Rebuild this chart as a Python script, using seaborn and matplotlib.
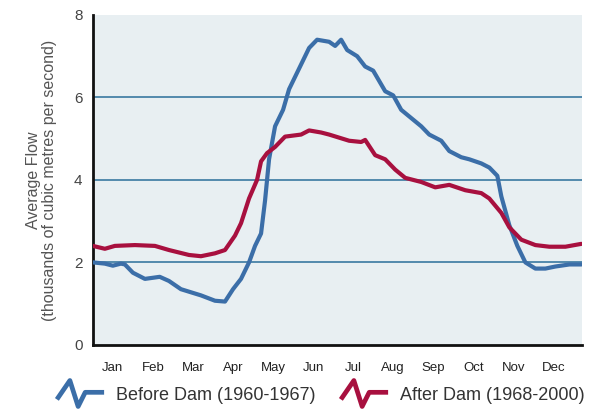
import numpy as np
import pandas as pd
import matplotlib.pyplot as plt
import seaborn as sns
from matplotlib.path import Path
from matplotlib.lines import Line2D

# Months since Jan 1 and average flow (thousands m3/s)
before_month = [0.0, 0.3, 0.5, 0.7, 0.8, 1.0, 1.3, 1.67, 1.9, 2.2, 2.7, 3.05, 3.3, 3.5, 3.7, 3.9,
                4.05, 4.2, 4.3, 4.4, 4.55, 4.75, 4.9, 5.2, 5.4, 5.6, 5.9, 6.05, 6.2, 6.35, 6.6,
                6.8, 7.0, 7.3, 7.5, 7.7, 7.95, 8.2, 8.4, 8.7, 8.9, 9.2, 9.4, 9.7, 9.9, 10.1,
                10.2, 10.4, 10.6, 10.8, 11.05, 11.3, 11.55, 11.9, 12.2]
before_flow = [2.0, 1.97, 1.92, 1.97, 1.95, 1.75, 1.6, 1.65, 1.55, 1.35, 1.2, 1.07, 1.05, 1.35, 1.6, 2.0,
               2.4, 2.7, 3.5, 4.5, 5.3, 5.7, 6.2, 6.8, 7.2, 7.4, 7.35, 7.25, 7.4, 7.15, 7.0,
               6.75, 6.65, 6.15, 6.05, 5.7, 5.5, 5.3, 5.1, 4.95, 4.7, 4.55, 4.5, 4.4, 4.3, 4.1,
               3.6, 2.9, 2.4, 2.0, 1.85, 1.85, 1.9, 1.95, 1.95]

after_month = [0.0, 0.3, 0.55, 1.05, 1.55, 1.9, 2.4, 2.7, 3.05, 3.3, 3.55, 3.7, 3.9, 4.1, 4.2,
               4.35, 4.55, 4.8, 5.2, 5.4, 5.7, 5.9, 6.4, 6.7, 6.8, 7.05, 7.3, 7.55, 7.8, 8.2,
               8.55, 8.9, 9.3, 9.7, 9.9, 10.2, 10.4, 10.7, 11.05, 11.4, 11.8, 12.2]
after_flow = [2.4, 2.33, 2.4, 2.42, 2.4, 2.3, 2.18, 2.15, 2.22, 2.3, 2.65, 2.95, 3.55, 4.0, 4.45,
              4.65, 4.8, 5.05, 5.1, 5.2, 5.15, 5.1, 4.95, 4.92, 4.97, 4.6, 4.5, 4.25, 4.05, 3.95,
              3.82, 3.88, 3.75, 3.68, 3.55, 3.2, 2.85, 2.55, 2.42, 2.38, 2.38, 2.45]

months = ["Jan", "Feb", "Mar", "Apr", "May", "Jun", "Jul", "Aug", "Sep", "Oct", "Nov", "Dec"]
labels = ["Before Dam (1960-1967)", "After Dam (1968-2000)"]
colors = ["#3b6ea8", "#a8103f"]

df = pd.concat([
    pd.DataFrame({"month": before_month, "flow": before_flow, "period": labels[0]}),
    pd.DataFrame({"month": after_month, "flow": after_flow, "period": labels[1]}),
])

sns.set_style("white")
plt.rcParams["font.family"] = ["Liberation Sans", "DejaVu Sans"]
fig = plt.figure(figsize=(5.99, 4.16), dpi=100)
ax = fig.add_axes([0.155, 0.171, 0.817, 0.793])
ax.set_facecolor("#e8eff2")

for y in [2, 4, 6]:
    ax.axhline(y, color="#2a6f9a", lw=1.1, zorder=1)

sns.lineplot(data=df, x="month", y="flow", hue="period", palette=colors,
             linewidth=3.0, legend=False, ax=ax, zorder=3)

ax.set_xlim(0, 12.22)
ax.set_ylim(0, 8)
ax.set_yticks([0, 2, 4, 6, 8])
ax.set_xticks(range(13))
ax.set_xticklabels([])
ax.set_xticks(np.arange(12) + 0.5, minor=True)
ax.set_xticklabels(months, minor=True)
ax.tick_params(axis="x", which="major", length=4, width=1.2, direction="out", colors="#222222")
ax.tick_params(axis="x", which="minor", length=0, labelsize=9.5, pad=12, labelcolor="#222222")
ax.tick_params(axis="y", length=4, width=1.2, direction="out", labelsize=11, labelcolor="#444444",
               colors="#222222")
ax.set_xlabel("")
ax.set_ylabel("Average Flow\n(thousands of cubic metres per second)", fontsize=11.5,
              color="#555555", labelpad=12, linespacing=1.1)

for s in ["top", "right"]:
    ax.spines[s].set_visible(False)
for s in ["left", "bottom"]:
    ax.spines[s].set_color("#111111")
    ax.spines[s].set_linewidth(2)

# zigzag legend icons
zig = Path([(-1.0, -0.25), (-0.45, 0.55), (-0.1, -0.55), (0.2, 0.05), (1.0, 0.05)],
           [Path.MOVETO, Path.LINETO, Path.LINETO, Path.LINETO, Path.LINETO])
handles = [Line2D([], [], linestyle="none", marker=zig, markersize=34, markerfacecolor="none",
                  markeredgecolor=c, markeredgewidth=3.4) for c in colors]
fig.legend(handles, labels, loc="center", bbox_to_anchor=(0.535, 0.05), ncol=2,
           frameon=False, fontsize=13, handlelength=2.6, columnspacing=1.4, handletextpad=0.7,
           labelcolor="#333333")

fig.savefig("out.png", dpi=100)
